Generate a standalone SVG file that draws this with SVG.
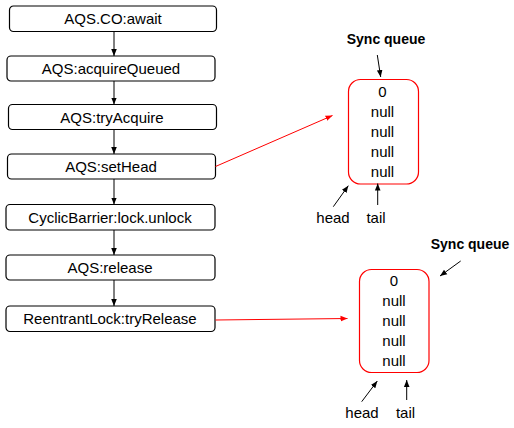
<svg xmlns="http://www.w3.org/2000/svg" width="514" height="428" viewBox="0 0 514 428">
<style>
.box{fill:#fff;stroke:#000;stroke-width:1.2}
.q{fill:#fff;stroke:#f00;stroke-width:1.2}
.t{font-family:"Liberation Sans",Arial,sans-serif;font-size:15px;fill:#000;text-anchor:middle}
.b{font-family:"Liberation Sans",Arial,sans-serif;font-size:14px;font-weight:bold;fill:#000;text-anchor:middle}
.k{stroke:#000;stroke-width:1;fill:none;marker-end:url(#ak)}
.r{stroke:#f00;stroke-width:1;fill:none;marker-end:url(#ar)}
</style>
<defs>
<marker id="ak" markerUnits="userSpaceOnUse" markerWidth="8" markerHeight="8" viewBox="0 0 8 8" refX="7" refY="4" orient="auto"><path d="M0,1.2 L7,4 L0,6.8 Z" fill="#000"/></marker>
<marker id="ar" markerUnits="userSpaceOnUse" markerWidth="8" markerHeight="8" viewBox="0 0 8 8" refX="7" refY="4" orient="auto"><path d="M0,1.2 L7,4 L0,6.8 Z" fill="#f00"/></marker>
</defs>
<rect width="514" height="428" fill="#fff"/>
<g id="n1"><rect class="box" x="9.5" y="6" width="207" height="25.5" rx="4"/><text class="t" x="113" y="24">AQS.CO:await</text></g>
<g id="n2"><rect class="box" x="7" y="56" width="208" height="25" rx="4"/><text class="t" x="111" y="74">AQS:acquireQueued</text></g>
<g id="n3"><rect class="box" x="8.5" y="104.5" width="208" height="25" rx="4"/><text class="t" x="112" y="122.5">AQS:tryAcquire</text></g>
<g id="n4"><rect class="box" x="7.5" y="154" width="208" height="25" rx="4"/><text class="t" x="111" y="172">AQS:setHead</text></g>
<g id="n5"><rect class="box" x="6" y="204.5" width="209" height="25.5" rx="4"/><text class="t" x="110" y="222.5">CyclicBarrier:lock.unlock</text></g>
<g id="n6"><rect class="box" x="6" y="255" width="209" height="25" rx="4"/><text class="t" x="110" y="273">AQS:release</text></g>
<g id="n7"><rect class="box" x="6" y="306" width="209" height="25.5" rx="4"/><text class="t" x="110" y="324">ReentrantLock:tryRelease</text></g>
<g id="q1">
<rect class="q" x="348.5" y="79.5" width="70" height="104.5" rx="12"/>
<text class="t" x="382.5" y="96.5">0</text>
<text class="t" x="382.5" y="116.5">null</text>
<text class="t" x="382.5" y="136.5">null</text>
<text class="t" x="382.5" y="156.5">null</text>
<text class="t" x="382.5" y="176.5">null</text>
</g>
<g id="q1label"><text class="b" x="386" y="44">Sync queue</text></g>
<g id="q1head"><text class="t" x="333" y="223">head</text></g>
<g id="q1tail"><text class="t" x="376" y="223">tail</text></g>
<g id="q2">
<rect class="q" x="359.5" y="269.5" width="69.5" height="103" rx="12"/>
<text class="t" x="394" y="286">0</text>
<text class="t" x="394" y="306">null</text>
<text class="t" x="394" y="326">null</text>
<text class="t" x="394" y="346">null</text>
<text class="t" x="394" y="366">null</text>
</g>
<g id="q2label"><text class="b" x="470" y="249">Sync queue</text></g>
<g id="q2head"><text class="t" x="362" y="418">head</text></g>
<g id="q2tail"><text class="t" x="405.5" y="418">tail</text></g>
<g id="connectors">
<line class="k" x1="114" y1="31.5" x2="114" y2="56"/>
<line class="k" x1="114" y1="81" x2="114" y2="104.5"/>
<line class="k" x1="114" y1="129.5" x2="114" y2="154"/>
<line class="k" x1="114" y1="179" x2="114" y2="204.5"/>
<line class="k" x1="114" y1="230" x2="114" y2="255"/>
<line class="k" x1="114" y1="280" x2="114" y2="306"/>
<line class="r" x1="215.5" y1="166.5" x2="332.5" y2="115.5"/>
<line class="r" x1="215.5" y1="320" x2="347.5" y2="318.5"/>
<line class="k" x1="377.3" y1="55" x2="380.7" y2="77"/>
<line class="k" x1="333.3" y1="206.7" x2="348.3" y2="185.7"/>
<line class="k" x1="377.7" y1="205" x2="377.7" y2="183.5"/>
<line class="k" x1="460.7" y1="261" x2="440" y2="276"/>
<line class="k" x1="361.7" y1="401.7" x2="377.3" y2="381"/>
<line class="k" x1="406.7" y1="400" x2="406.7" y2="380"/>
</g>
</svg>
